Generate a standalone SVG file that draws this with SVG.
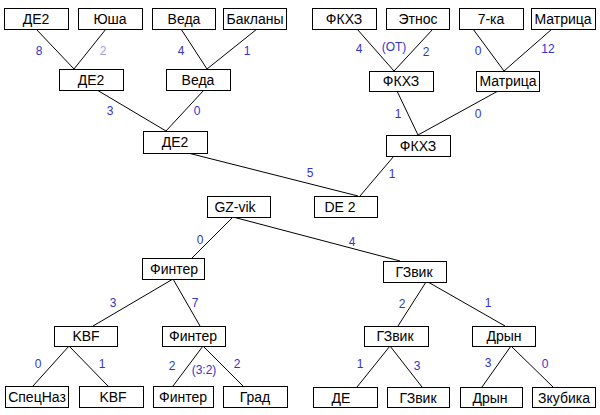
<svg xmlns="http://www.w3.org/2000/svg" width="600" height="415" viewBox="0 0 600 415">
<style>
.b rect{fill:#fff;stroke:#000;stroke-width:1}
.b text{font-family:"Liberation Sans",Arial,sans-serif;font-size:14px;fill:#000;text-anchor:middle}
.c line{stroke:#000;stroke-width:1}
.l{font-family:"Liberation Sans",Arial,sans-serif;font-size:12px;fill:#3333cc;text-anchor:middle}
.lt{fill:#a0a0e0}
</style>
<rect width="600" height="415" fill="#fff"/>
<g class="c" id="connectors">
<line x1="36" y1="29" x2="74" y2="69"/>
<line x1="106" y1="29" x2="74" y2="69"/>
<line x1="181" y1="29" x2="207" y2="69"/>
<line x1="257" y1="29" x2="207" y2="69"/>
<line x1="97" y1="90" x2="166" y2="131"/>
<line x1="204" y1="90" x2="166" y2="131"/>
<line x1="357" y1="29" x2="394" y2="71"/>
<line x1="433" y1="29" x2="394" y2="71"/>
<line x1="473" y1="29" x2="504" y2="71"/>
<line x1="552" y1="29" x2="504" y2="71"/>
<line x1="397" y1="91" x2="418" y2="135"/>
<line x1="498" y1="91" x2="418" y2="135"/>
<line x1="188" y1="153" x2="358" y2="196"/>
<line x1="394" y1="156" x2="360" y2="196"/>
<line x1="233" y1="217" x2="192" y2="258"/>
<line x1="233" y1="217" x2="400" y2="261"/>
<line x1="173" y1="279" x2="93" y2="326"/>
<line x1="173" y1="279" x2="200" y2="326"/>
<line x1="426" y1="282" x2="398" y2="326"/>
<line x1="428" y1="282" x2="505" y2="326"/>
<line x1="69" y1="346" x2="33" y2="386"/>
<line x1="69" y1="346" x2="108" y2="386"/>
<line x1="203" y1="346" x2="173" y2="386"/>
<line x1="203" y1="346" x2="243" y2="386"/>
<line x1="390" y1="346" x2="357" y2="387"/>
<line x1="390" y1="346" x2="422" y2="387"/>
<line x1="511" y1="346" x2="482" y2="387"/>
<line x1="511" y1="346" x2="553" y2="387"/>
</g>
<g id="labels">
<text class="l" x="39" y="55">8</text>
<text class="l lt" x="103" y="55">2</text>
<text class="l" x="181" y="55">4</text>
<text class="l" x="247" y="55">1</text>
<text class="l" x="110" y="115">3</text>
<text class="l" x="197" y="115">0</text>
<text class="l" x="359" y="53">4</text>
<text class="l" x="394" y="51">(OT)</text>
<text class="l" x="426" y="56">2</text>
<text class="l" x="478" y="55">0</text>
<text class="l" x="548" y="53">12</text>
<text class="l" x="398" y="118">1</text>
<text class="l" x="478" y="118">0</text>
<text class="l" x="310" y="177">5</text>
<text class="l" x="392" y="178">1</text>
<text class="l" x="200" y="244">0</text>
<text class="l" x="352" y="246">4</text>
<text class="l" x="113" y="307">3</text>
<text class="l" x="195" y="307">7</text>
<text class="l" x="38" y="368">0</text>
<text class="l" x="102" y="368">1</text>
<text class="l" x="172" y="370">2</text>
<text class="l" x="204" y="374">(3:2)</text>
<text class="l" x="237" y="368">2</text>
<text class="l" x="402" y="308">2</text>
<text class="l" x="488" y="307">1</text>
<text class="l" x="360" y="368">1</text>
<text class="l" x="417" y="370">3</text>
<text class="l" x="488" y="367">3</text>
<text class="l" x="545" y="368">0</text>
</g>
<g class="b" id="n1"><rect x="4.5" y="8.5" width="64" height="21"/><text x="36" y="24">ДЕ2</text></g>
<g class="b" id="n2"><rect x="78.5" y="8.5" width="64" height="21"/><text x="110" y="24">Юша</text></g>
<g class="b" id="n3"><rect x="152.5" y="8.5" width="63" height="21"/><text x="184" y="24">Веда</text></g>
<g class="b" id="n4"><rect x="223.5" y="8.5" width="63" height="21"/><text x="255" y="24">Бакланы</text></g>
<g class="b" id="n5"><rect x="312.5" y="8.5" width="64" height="21"/><text x="344" y="24">ФКХЗ</text></g>
<g class="b" id="n6"><rect x="386.5" y="8.5" width="63" height="21"/><text x="418" y="24">Этнос</text></g>
<g class="b" id="n7"><rect x="459.5" y="8.5" width="64" height="21"/><text x="491" y="24">7-ка</text></g>
<g class="b" id="n8"><rect x="531.5" y="8.5" width="64" height="21"/><text x="563" y="24">Матрица</text></g>
<g class="b" id="n9"><rect x="59.5" y="69.5" width="64" height="21"/><text x="91" y="85">ДЕ2</text></g>
<g class="b" id="n10"><rect x="166.5" y="69.5" width="64" height="21"/><text x="198" y="85">Веда</text></g>
<g class="b" id="n11"><rect x="369.5" y="71.5" width="64" height="20"/><text x="401" y="86">ФКХЗ</text></g>
<g class="b" id="n12"><rect x="476.5" y="71.5" width="63" height="20"/><text x="508" y="86">Матрица</text></g>
<g class="b" id="n13"><rect x="143.5" y="131.5" width="64" height="22"/><text x="175" y="147">ДЕ2</text></g>
<g class="b" id="n14"><rect x="386.5" y="135.5" width="64" height="21"/><text x="418" y="151">ФКХЗ</text></g>
<g class="b" id="n15"><rect x="314.5" y="196.5" width="63" height="21"/><text x="340" y="212">DE 2</text></g>
<g class="b" id="n16"><rect x="207.5" y="196.5" width="63" height="21"/><text x="235" y="212">GZ-vik</text></g>
<g class="b" id="n17"><rect x="142.5" y="258.5" width="62" height="21"/><text x="174" y="274">Финтер</text></g>
<g class="b" id="n18"><rect x="383.5" y="261.5" width="63" height="21"/><text x="414" y="277">ГЗвик</text></g>
<g class="b" id="n19"><rect x="54.5" y="326.5" width="63" height="20"/><text x="86" y="341">KBF</text></g>
<g class="b" id="n20"><rect x="162.5" y="326.5" width="63" height="20"/><text x="193" y="341">Финтер</text></g>
<g class="b" id="n21"><rect x="364.5" y="326.5" width="64" height="20"/><text x="395" y="341">ГЗвик</text></g>
<g class="b" id="n22"><rect x="472.5" y="326.5" width="63" height="20"/><text x="504" y="341">Дрын</text></g>
<g class="b" id="n23"><rect x="5.5" y="386.5" width="63" height="21"/><text x="37" y="402">СпецНаз</text></g>
<g class="b" id="n24"><rect x="79.5" y="386.5" width="64" height="21"/><text x="113" y="402">KBF</text></g>
<g class="b" id="n25"><rect x="153.5" y="386.5" width="60" height="21"/><text x="183" y="402">Финтер</text></g>
<g class="b" id="n26"><rect x="223.5" y="386.5" width="64" height="21"/><text x="255" y="402">Град</text></g>
<g class="b" id="n27"><rect x="313.5" y="387.5" width="64" height="20"/><text x="341" y="403">ДЕ</text></g>
<g class="b" id="n28"><rect x="387.5" y="387.5" width="62" height="20"/><text x="418" y="403">ГЗвик</text></g>
<g class="b" id="n29"><rect x="460.5" y="387.5" width="62" height="20"/><text x="490" y="403">Дрын</text></g>
<g class="b" id="n30"><rect x="532.5" y="387.5" width="63" height="20"/><text x="564" y="403">Зкубика</text></g>
</svg>
